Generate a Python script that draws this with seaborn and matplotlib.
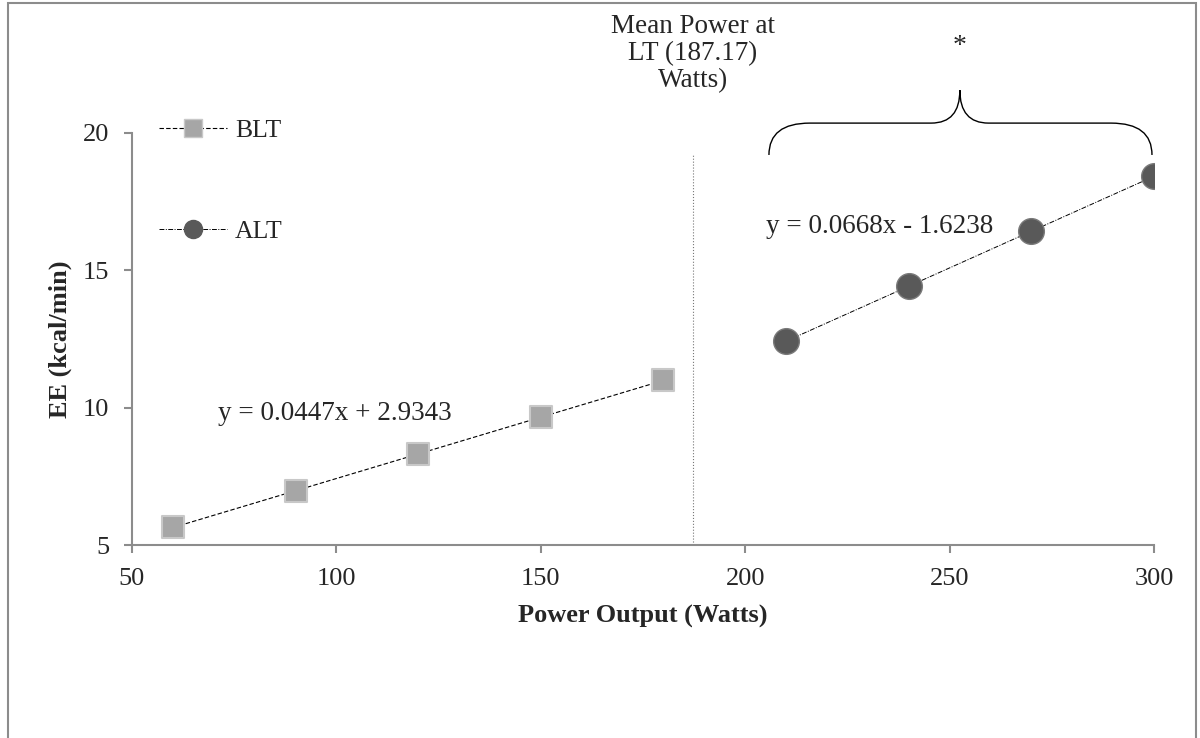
import pandas as pd
import seaborn as sns
import matplotlib.pyplot as plt
from matplotlib.lines import Line2D
from matplotlib.path import Path
from matplotlib.patches import PathPatch, Rectangle

# values
blt_power = [60, 90, 120, 150, 180]
blt_ee = [5.64, 6.97, 8.31, 9.66, 10.99]
alt_power = [210, 240, 270, 300]
alt_ee = [12.42, 14.42, 16.43, 18.42]
lt_power = 187.17
blt_eq = 'y = 0.0447x + 2.9343'
alt_eq = 'y = 0.0668x - 1.6238'
x_ticks = [50, 100, 150, 200, 250, 300]
y_ticks = [5, 10, 15, 20]

sns.set_style('ticks')
plt.rcParams['font.family'] = ['Liberation Serif', 'DejaVu Serif']

blt = pd.DataFrame({'power': blt_power, 'ee': blt_ee})
alt = pd.DataFrame({'power': alt_power, 'ee': alt_ee})

fig = plt.figure(figsize=(12, 7.38), dpi=100)
ax = fig.add_axes([0.11, 0.2615, 0.8517, 0.5583])

blt_ls = (0, (4, 2))
alt_ls = (0, (5, 1.5, 1, 1.5))
sns.regplot(data=blt, x='power', y='ee', ax=ax, ci=None, truncate=True, marker='s',
            scatter_kws=dict(s=16 ** 2, color='#a6a6a6', edgecolor='#c8c8c8',
                             linewidths=1.5, alpha=1, zorder=3),
            line_kws=dict(color='black', lw=0.8, ls=blt_ls))
sns.regplot(data=alt, x='power', y='ee', ax=ax, ci=None, truncate=True, marker='o',
            scatter_kws=dict(s=18.5 ** 2, color='#595959', edgecolor='#7a7a7a',
                             linewidths=1, alpha=1, zorder=3),
            line_kws=dict(color='black', lw=0.7, ls=alt_ls))

# lactate threshold marker
ax.axvline(lt_power, ymin=0, ymax=0.947, color='#777777', lw=0.8, ls=':')
ax.text(lt_power, 24.35, f'Mean Power at\nLT ({lt_power})\nWatts)', ha='center', va='top',
        fontsize=19.5, linespacing=1.13, clip_on=False)

# brace over ALT points with asterisk
x0, x1, xm = 205.8, 299.5, 252.5
y0, y1, y2 = 19.2, 20.36, 21.56
verts = [(x0, y0), (x0, y1), (x0 + 10, y1), (xm - 7, y1), (xm, y1), (xm, y2),
         (xm, y2), (xm, y1), (xm + 7, y1), (x1 - 10, y1), (x1, y1), (x1, y0)]
codes = [Path.MOVETO, Path.CURVE3, Path.CURVE3, Path.LINETO, Path.CURVE3, Path.CURVE3,
         Path.MOVETO, Path.CURVE3, Path.CURVE3, Path.LINETO, Path.CURVE3, Path.CURVE3]
ax.add_patch(PathPatch(Path(verts, codes), fc='none', ec='black', lw=1, clip_on=False))
ax.text(xm, 23.15, '*', ha='center', va='center', fontsize=20, clip_on=False)

# trendline equations
ax.text(71.0, 9.55, blt_eq, ha='left', va='baseline', fontsize=19.5)
ax.text(205.1, 16.35, alt_eq, ha='left', va='baseline', fontsize=19.5)

handles = [
    Line2D([], [], color='black', lw=0.8, ls=blt_ls, marker='s', markersize=12.5,
           markerfacecolor='#a6a6a6', markeredgecolor='#c8c8c8'),
    Line2D([], [], color='black', lw=0.7, ls=alt_ls, marker='o', markersize=13,
           markerfacecolor='#595959', markeredgecolor='#595959'),
]
ax.legend(handles, ['BLT', 'ALT'], loc='upper left', bbox_to_anchor=(0.0264, 1.034),
          frameon=False, borderpad=0, borderaxespad=0, fontsize=18.5, handlelength=2.65,
          handletextpad=0.31, labelspacing=3.05)

ax.set_xlim(50, 300)
ax.set_ylim(5, 20)
ax.set_xticks(x_ticks)
ax.set_yticks(y_ticks)
ax.set_xlabel('Power Output (Watts)', fontsize=19, fontweight='bold', labelpad=11)
ax.set_ylabel('EE (kcal/min)', fontsize=19, fontweight='bold', labelpad=8)
sns.despine(ax=ax)
for side in ['left', 'bottom']:
    ax.spines[side].set_color('#8c8c8c')
    ax.spines[side].set_linewidth(1.5)
ax.tick_params(direction='out', length=5.5, width=1.5, color='#8c8c8c', labelsize=19, pad=11)

# outer chart border
fig.add_artist(Rectangle((0.007, -0.01), 0.99, 1.006, transform=fig.transFigure,
                         fc='none', ec='#8c8c8c', lw=1.5))

fig.savefig('out.png', dpi=100)
